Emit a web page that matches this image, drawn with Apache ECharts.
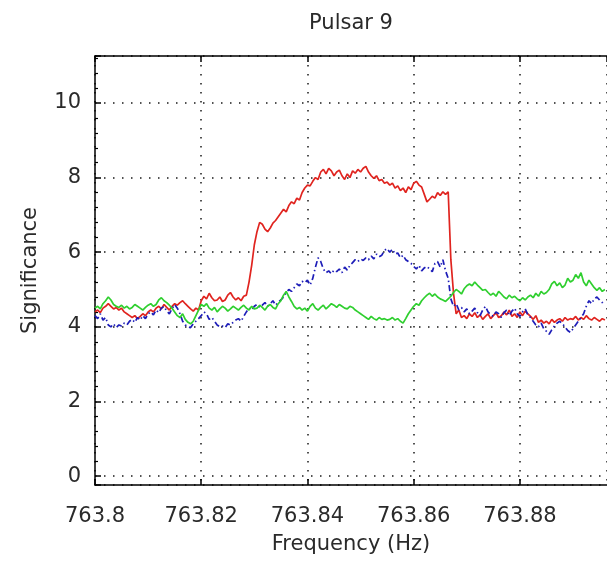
<!DOCTYPE html>
<html>
<head>
<meta charset="utf-8">
<title>Pulsar 9</title>
<script src="https://cdn.jsdelivr.net/npm/echarts@6/dist/echarts.min.js"></script>
<style>
  html, body { margin: 0; padding: 0; background: #fff; }
  #chart { width: 607px; height: 564px; }
</style>
</head>
<body>
<div id="chart"></div>
<script>
// Frequency sampling of the search band (Hz)
const freqStart = 763.8;
const freqStep = 0.0005;
const xTicks = ['763.8', '763.82', '763.84', '763.86', '763.88'];
const yTicks = ['0', '2', '4', '6', '8', '10'];

// Significance per frequency bin, one array per detector statistic
const redValues = [
  4.40, 4.45, 4.38, 4.50, 4.55, 4.62, 4.55, 4.48, 4.52, 4.45, 4.50,
  4.40, 4.35, 4.30, 4.25, 4.30, 4.22, 4.28, 4.35, 4.30, 4.40,
  4.45, 4.40, 4.50, 4.55, 4.48, 4.60, 4.52, 4.45, 4.55, 4.62,
  4.58, 4.65, 4.70, 4.62, 4.55, 4.48, 4.42, 4.50, 4.45, 4.70,
  4.82, 4.75, 4.90, 4.78, 4.70, 4.72, 4.80, 4.68, 4.72, 4.85,
  4.92, 4.80, 4.72, 4.78, 4.70, 4.82, 4.85, 5.20, 5.65, 6.20,
  6.55, 6.80, 6.75, 6.62, 6.55, 6.65, 6.78, 6.85, 6.95, 7.05,
  7.15, 7.08, 7.25, 7.35, 7.30, 7.45, 7.40, 7.60, 7.72, 7.80,
  7.78, 7.90, 8.00, 7.95, 8.15, 8.22, 8.10, 8.25, 8.18, 8.05,
  8.15, 8.20, 8.05, 7.95, 8.10, 8.00, 8.18, 8.12, 8.22, 8.15,
  8.25, 8.30, 8.15, 8.05, 7.98, 8.05, 7.92, 7.95, 7.85, 7.88,
  7.80, 7.85, 7.72, 7.78, 7.65, 7.72, 7.60, 7.75, 7.68, 7.85,
  7.90, 7.80, 7.75, 7.55, 7.35, 7.42, 7.50, 7.45, 7.60, 7.52,
  7.62, 7.55, 7.62, 5.80, 4.90, 4.35, 4.45, 4.25, 4.30, 4.22,
  4.35, 4.28, 4.38, 4.25, 4.32, 4.20, 4.28, 4.35, 4.22, 4.30,
  4.38, 4.25, 4.30, 4.40, 4.32, 4.45, 4.28, 4.35, 4.25, 4.40,
  4.30, 4.42, 4.35, 4.28, 4.20, 4.30, 4.12, 4.18, 4.10, 4.15,
  4.08, 4.20, 4.12, 4.18, 4.22, 4.15, 4.25, 4.18, 4.22, 4.20,
  4.28, 4.18, 4.25, 4.20, 4.30, 4.22, 4.18, 4.25, 4.20, 4.15, 4.22, 4.18
];

const blueValues = [
  4.30, 4.22, 4.35, 4.18, 4.25, 4.05, 4.00, 4.08, 3.98, 4.05, 4.02,
  4.10, 4.05, 4.15, 4.20, 4.12, 4.25, 4.18, 4.30, 4.22, 4.35,
  4.40, 4.32, 4.45, 4.38, 4.50, 4.55, 4.42, 4.35, 4.48, 4.60,
  4.50, 4.35, 4.15, 4.05, 4.00, 3.98, 4.08, 4.15, 4.22, 4.30,
  4.40, 4.35, 4.20, 4.25, 4.15, 4.05, 4.00, 4.02, 3.98, 4.08,
  4.05, 4.12, 4.18, 4.22, 4.15, 4.28, 4.40, 4.50, 4.45, 4.55,
  4.60, 4.52, 4.58, 4.65, 4.55, 4.62, 4.70, 4.58, 4.66, 4.72,
  4.80, 4.92, 5.00, 4.95, 5.05, 5.15, 5.10, 5.22, 5.18, 5.25,
  5.12, 5.30, 5.60, 5.85, 5.75, 5.55, 5.45, 5.50, 5.42, 5.52,
  5.48, 5.55, 5.45, 5.60, 5.52, 5.65, 5.72, 5.80, 5.75, 5.82,
  5.78, 5.85, 5.80, 5.90, 5.82, 5.95, 5.88, 5.92, 6.05, 6.10,
  6.00, 6.08, 5.95, 5.98, 5.85, 5.92, 5.80, 5.75, 5.70, 5.62,
  5.55, 5.65, 5.50, 5.58, 5.62, 5.55, 5.48, 5.70, 5.75, 5.60,
  5.80, 5.50, 5.30, 4.75, 4.55, 4.62, 4.45, 4.52, 4.40, 4.48,
  4.35, 4.42, 4.50, 4.38, 4.30, 4.45, 4.55, 4.40, 4.32, 4.28,
  4.40, 4.35, 4.25, 4.38, 4.45, 4.30, 4.42, 4.50, 4.35, 4.28,
  4.40, 4.48, 4.32, 4.25, 4.15, 4.05, 4.00, 4.10, 3.95, 3.88,
  3.80, 3.92, 4.02, 4.10, 4.15, 4.08, 4.00, 3.90, 3.85, 3.95,
  4.05, 4.15, 4.25, 4.35, 4.55, 4.70, 4.62, 4.75, 4.80, 4.72, 4.65, 4.70
];

const greenValues = [
  4.50, 4.55, 4.48, 4.62, 4.70, 4.80, 4.72, 4.60, 4.55, 4.52, 4.58,
  4.50, 4.55, 4.48, 4.52, 4.60, 4.55, 4.50, 4.45, 4.52, 4.58,
  4.62, 4.55, 4.60, 4.72, 4.78, 4.70, 4.65, 4.58, 4.50, 4.40,
  4.30, 4.25, 4.35, 4.20, 4.12, 4.08, 4.15, 4.30, 4.45, 4.60,
  4.55, 4.62, 4.50, 4.45, 4.52, 4.40, 4.48, 4.55, 4.50, 4.42,
  4.48, 4.55, 4.50, 4.45, 4.52, 4.58, 4.50, 4.45, 4.55, 4.48,
  4.50, 4.58, 4.52, 4.45, 4.55, 4.60, 4.52, 4.48, 4.62, 4.70,
  4.85, 4.95, 4.80, 4.68, 4.55, 4.48, 4.52, 4.45, 4.50, 4.42,
  4.55, 4.62, 4.50, 4.45, 4.52, 4.58, 4.48, 4.55, 4.62, 4.58,
  4.52, 4.60, 4.55, 4.50, 4.48, 4.55, 4.52, 4.45, 4.40, 4.35,
  4.30, 4.25, 4.20, 4.28, 4.22, 4.18, 4.25, 4.20, 4.22, 4.18,
  4.20, 4.25, 4.18, 4.22, 4.15, 4.10, 4.22, 4.35, 4.45, 4.55,
  4.62, 4.58, 4.70, 4.78, 4.85, 4.90, 4.82, 4.88, 4.80, 4.75,
  4.72, 4.68, 4.75, 4.82, 4.92, 5.00, 4.95, 4.88, 5.02, 5.10,
  5.15, 5.10, 5.20, 5.12, 5.05, 4.98, 5.00, 4.92, 4.85, 4.90,
  4.82, 4.95, 4.88, 4.80, 4.75, 4.85, 4.78, 4.82, 4.75, 4.70,
  4.78, 4.72, 4.80, 4.85, 4.78, 4.90, 4.82, 4.95, 4.88, 4.92,
  5.00, 5.15, 5.22, 5.10, 5.18, 5.05, 5.12, 5.30, 5.20, 5.25,
  5.40, 5.30, 5.45, 5.20, 5.10, 5.25, 5.15, 5.05, 4.98, 5.05, 4.95, 5.00
];

function toPairs(values) {
  return values.map((v, i) => [+(freqStart + i * freqStep).toFixed(4), v]);
}

const textFont = '"DejaVu Sans", Verdana, sans-serif';
const textColor = '#2a2a2a';
const textSize = 21;
const dotted = { color: '#1a1a1a', width: 1.5, type: [1.5, 7.5] };

const labelFmt = list => v => {
  const s = String(+v.toFixed(4));
  return list.indexOf(s) >= 0 ? s : '';
};

const chart = echarts.init(document.getElementById('chart'), null, { renderer: 'canvas' });

chart.setOption({
  animation: false,
  backgroundColor: '#fff',
  grid: { left: 95, right: -7, top: 56, bottom: 79, containLabel: false },
  xAxis: [
    {
      type: 'value',
      position: 'bottom',
      min: 763.8,
      max: 763.8964,
      interval: 0.02,
      name: 'Frequency (Hz)',
      nameLocation: 'middle',
      nameGap: 49,
      nameTextStyle: { fontFamily: textFont, fontSize: textSize, color: textColor },
      axisLine: { show: true, onZero: false, lineStyle: { color: '#000', width: 1.5 } },
      axisTick: { show: true, inside: true, length: 6, lineStyle: { color: '#000', width: 1.5 } },
      axisLabel: {
        show: true, margin: 21, formatter: labelFmt(xTicks),
        showMinLabel: true, showMaxLabel: false,
        fontFamily: textFont, fontSize: textSize, color: textColor
      },
      splitLine: { show: true, lineStyle: dotted }
    },
    {
      type: 'value',
      position: 'top',
      min: 763.8,
      max: 763.8964,
      interval: 0.02,
      name: 'Pulsar 9',
      nameLocation: 'middle',
      nameGap: 22,
      nameTextStyle: { fontFamily: textFont, fontSize: textSize, color: textColor },
      axisLine: { show: true, onZero: false, lineStyle: { color: '#000', width: 1.5 } },
      axisTick: { show: true, inside: true, length: 6, lineStyle: { color: '#000', width: 1.5 } },
      axisLabel: { show: false },
      splitLine: { show: false }
    }
  ],
  yAxis: {
    type: 'value',
    min: -0.24,
    max: 11.26,
    splitNumber: 5,
    minInterval: 2,
    maxInterval: 2,
    name: 'Significance',
    nameLocation: 'middle',
    nameGap: 54,
    nameRotate: 90,
    nameTextStyle: { fontFamily: textFont, fontSize: textSize, color: textColor },
    axisLine: { show: true, onZero: false, lineStyle: { color: '#000', width: 1.5 } },
    axisTick: { show: true, inside: true, length: 6, lineStyle: { color: '#000', width: 1.5 } },
    minorTick: { show: true, splitNumber: 5, length: 3, lineStyle: { color: '#000', width: 1.2 } },
    axisLabel: {
      show: true, margin: 14, formatter: labelFmt(yTicks),
      showMinLabel: false, showMaxLabel: false,
      fontFamily: textFont, fontSize: textSize, color: textColor
    },
    splitLine: { show: true, lineStyle: dotted }
  },
  series: [
    {
      name: 'red', type: 'line', xAxisIndex: 0, data: toPairs(redValues),
      showSymbol: false, symbol: 'none',
      lineStyle: { color: '#e0241f', width: 1.7 }, z: 3
    },
    {
      name: 'blue', type: 'line', xAxisIndex: 0, data: toPairs(blueValues),
      showSymbol: false, symbol: 'none',
      lineStyle: { color: '#1d1db8', width: 1.7, type: [6, 3, 1.5, 3] }, z: 4
    },
    {
      name: 'green', type: 'line', xAxisIndex: 0, data: toPairs(greenValues),
      showSymbol: false, symbol: 'none',
      lineStyle: { color: '#2fcf2f', width: 1.7 }, z: 5
    }
  ]
});
</script>
</body>
</html>
